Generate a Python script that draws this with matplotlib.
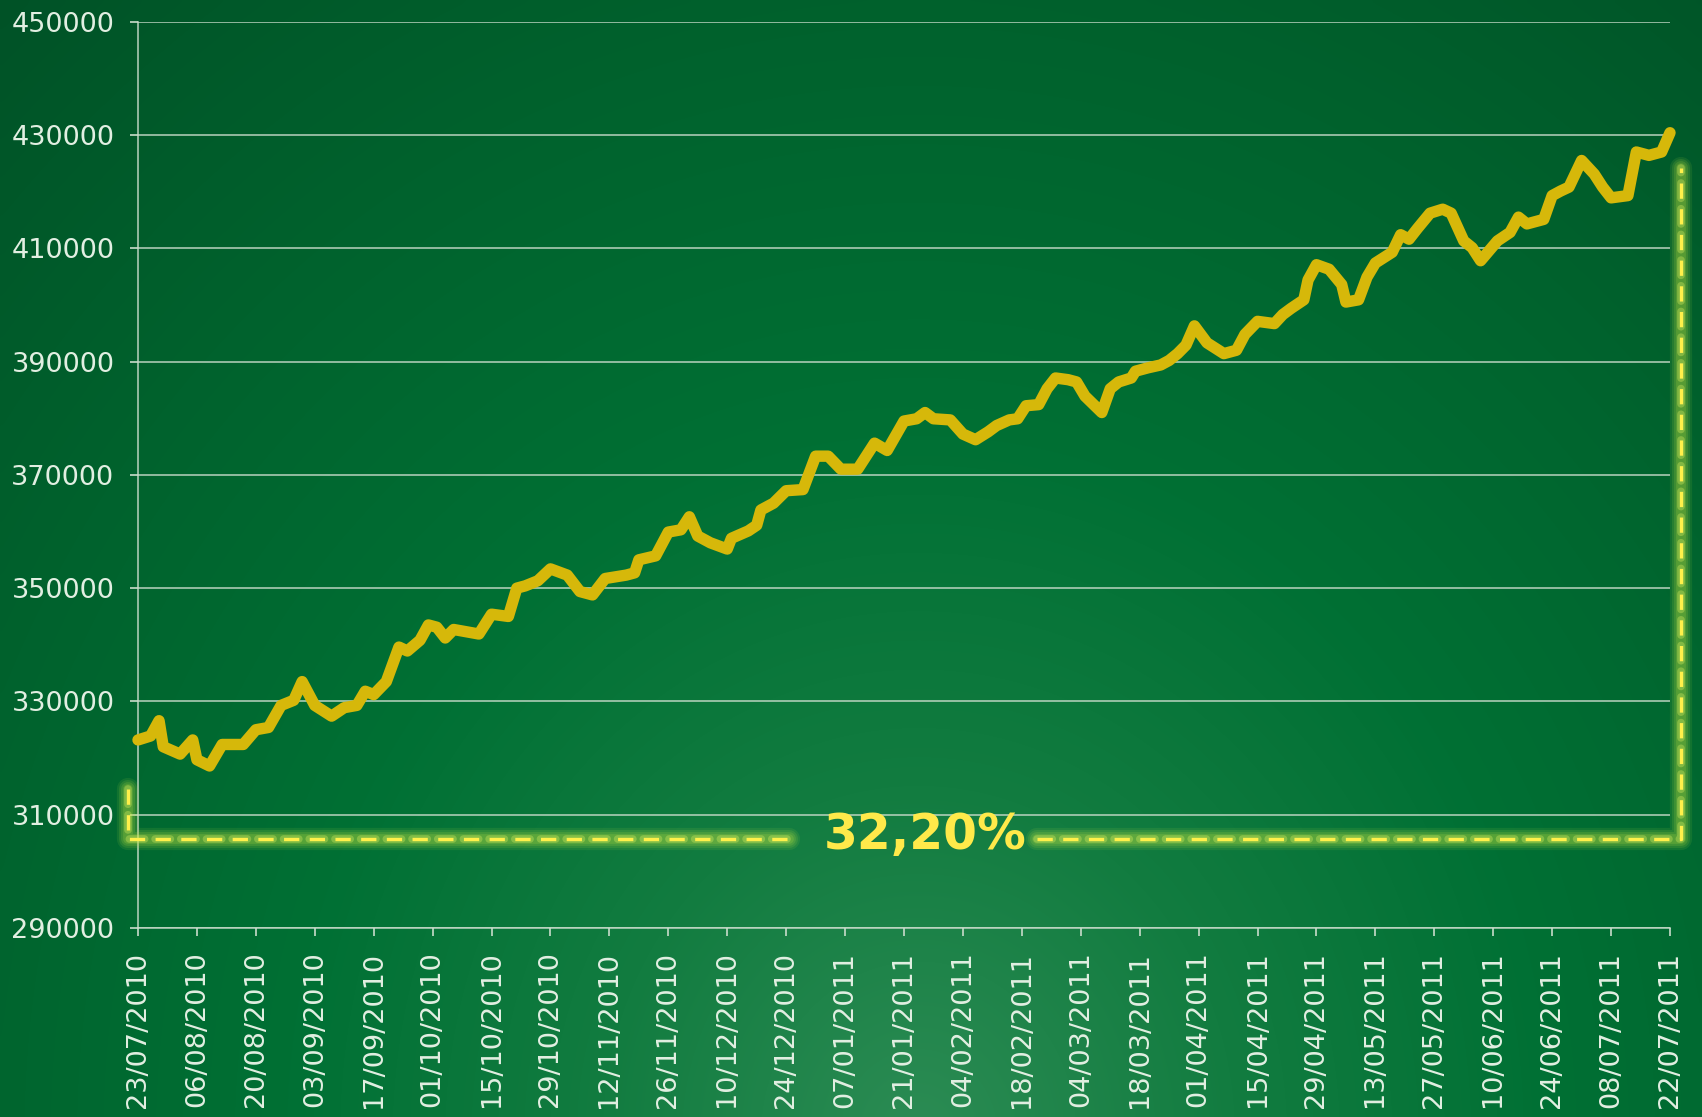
import numpy as np
import pandas as pd
import matplotlib
matplotlib.use("Agg")
import matplotlib.pyplot as plt

# ---------------- data ----------------
dates = [
    "23/07/2010", "26/07/2010", "28/07/2010", "29/07/2010", "02/08/2010", "05/08/2010",
    "06/08/2010", "09/08/2010", "12/08/2010", "17/08/2010", "20/08/2010", "23/08/2010",
    "26/08/2010", "29/08/2010", "31/08/2010", "03/09/2010", "07/09/2010", "10/09/2010",
    "13/09/2010", "15/09/2010", "17/09/2010", "20/09/2010", "23/09/2010", "25/09/2010",
    "28/09/2010", "30/09/2010", "02/10/2010", "04/10/2010", "06/10/2010", "12/10/2010",
    "15/10/2010", "19/10/2010", "21/10/2010", "23/10/2010", "26/10/2010", "29/10/2010",
    "02/11/2010", "05/11/2010", "08/11/2010", "11/11/2010", "16/11/2010", "18/11/2010",
    "19/11/2010", "23/11/2010", "26/11/2010", "29/11/2010", "01/12/2010", "03/12/2010",
    "06/12/2010", "10/12/2010", "11/12/2010", "15/12/2010", "17/12/2010", "18/12/2010",
    "21/12/2010", "24/12/2010", "28/12/2010", "31/12/2010", "03/01/2011", "06/01/2011",
    "10/01/2011", "14/01/2011", "17/01/2011", "21/01/2011", "24/01/2011", "26/01/2011",
    "28/01/2011", "01/02/2011", "04/02/2011", "07/02/2011", "10/02/2011", "12/02/2011",
    "15/02/2011", "17/02/2011", "19/02/2011", "22/02/2011", "24/02/2011", "26/02/2011",
    "01/03/2011", "03/03/2011", "05/03/2011", "09/03/2011", "11/03/2011", "13/03/2011",
    "16/03/2011", "17/03/2011", "20/03/2011", "23/03/2011", "25/03/2011", "27/03/2011",
    "29/03/2011", "31/03/2011", "03/04/2011", "07/04/2011", "10/04/2011", "12/04/2011",
    "15/04/2011", "17/04/2011", "19/04/2011", "21/04/2011", "23/04/2011", "26/04/2011",
    "27/04/2011", "29/04/2011", "02/05/2011", "05/05/2011", "06/05/2011", "09/05/2011",
    "11/05/2011", "13/05/2011", "17/05/2011", "19/05/2011", "21/05/2011", "23/05/2011",
    "26/05/2011", "29/05/2011", "31/05/2011", "03/06/2011", "05/06/2011", "07/06/2011",
    "11/06/2011", "14/06/2011", "16/06/2011", "18/06/2011", "22/06/2011", "24/06/2011",
    "26/06/2011", "28/06/2011", "01/07/2011", "04/07/2011", "06/07/2011", "08/07/2011",
    "12/07/2011", "14/07/2011", "17/07/2011", "20/07/2011", "22/07/2011",
]
values = [
    323200, 323900, 326600, 322000, 320700, 323200,
    319700, 318600, 322400, 322400, 325000, 325400,
    329300, 330200, 333500, 329300, 327400, 328900,
    329300, 331800, 331200, 333500, 339600, 338900,
    340800, 343500, 343100, 341200, 342700, 341900,
    345400, 345000, 350000, 350400, 351300, 353400,
    352300, 349400, 348800, 351700, 352300, 352700,
    355000, 355700, 359900, 360300, 362600, 359200,
    358000, 356900, 358800, 360100, 361100, 363800,
    365000, 367200, 367400, 373300, 373300, 371000,
    371000, 375600, 374300, 379500, 379900, 381000,
    379900, 379700, 377200, 376200, 377600, 378700,
    379700, 379900, 382200, 382400, 385200, 387100,
    386800, 386400, 383900, 381000, 385200, 386400,
    387100, 388300, 388900, 389400, 390200, 391400,
    392900, 396300, 393300, 391400, 392000, 394800,
    397100, 396900, 396700, 398300, 399400, 400900,
    404400, 407100, 406300, 403600, 400500, 400900,
    404900, 407400, 409300, 412400, 411600, 413500,
    416200, 416900, 416200, 411300, 410100, 407800,
    411300, 412800, 415500, 414300, 415100, 419300,
    420100, 420800, 425500, 423100, 420800, 418900,
    419300, 427000, 426400, 427000, 430400,
]
tick_labels = [
    "23/07/2010", "06/08/2010", "20/08/2010", "03/09/2010", "17/09/2010", "01/10/2010",
    "15/10/2010", "29/10/2010", "12/11/2010", "26/11/2010", "10/12/2010", "24/12/2010",
    "07/01/2011", "21/01/2011", "04/02/2011", "18/02/2011", "04/03/2011", "18/03/2011",
    "01/04/2011", "15/04/2011", "29/04/2011", "13/05/2011", "27/05/2011", "10/06/2011",
    "24/06/2011", "08/07/2011", "22/07/2011",
]
y_ticks = [290000, 310000, 330000, 350000, 370000, 390000, 410000, 430000, 450000]
annotation_text = "32,20%"

# ---------------- figure ----------------
plt.rcParams["font.family"] = ["DejaVu Sans"]
plt.rcParams["lines.scale_dashes"] = False

W, H = 1702, 1117
fig = plt.figure(figsize=(W / 100, H / 100), dpi=100)

# background radial gradient
bg = fig.add_axes([0, 0, 1, 1], zorder=-10)
gh, gw = 224, 340
u = np.linspace(0, 1, gw)[None, :]
v = np.linspace(0, 1, gh)[:, None]
d = np.sqrt(((u - 0.54) / 0.62) ** 2 + ((v - 1.02) / 1.05) ** 2)
stops = [0.0, 0.3, 0.6, 0.95, 1.4]
cols = np.array([
    [44, 140, 84],
    [18, 124, 64],
    [0, 112, 52],
    [0, 98, 45],
    [0, 78, 37],
]) / 255.0
img = np.zeros((gh, gw, 3))
for c in range(3):
    img[..., c] = np.interp(d, stops, cols[:, c])
bg.imshow(img, aspect="auto", extent=[0, 1, 0, 1], interpolation="bicubic")
bg.set_axis_off()

ax = fig.add_axes([138 / W, 1 - 928 / H, (1670 - 138) / W, (928 - 21.7) / H])
ax.set_facecolor("none")

x = pd.to_datetime(dates, format="%d/%m/%Y")
ax.plot(x, values, color="#d6b80a", lw=8.2, solid_joinstyle="round",
        solid_capstyle="round", zorder=5, clip_on=False)

ax.set_ylim(290000, 450000)
ax.set_xlim(pd.to_datetime(tick_labels[0], format="%d/%m/%Y"),
            pd.to_datetime(tick_labels[-1], format="%d/%m/%Y"))
ax.set_yticks(y_ticks)
ax.set_yticklabels([str(t) for t in y_ticks])
tick_pos = pd.to_datetime(tick_labels, format="%d/%m/%Y")
ax.set_xticks(tick_pos)
ax.set_xticklabels(tick_labels, rotation=90)

grid_col = "#c9dccb"
ax.grid(axis="y", color=grid_col, lw=1.2, alpha=0.85, zorder=1)
ax.grid(axis="x", visible=False)
for s in ["top", "right"]:
    ax.spines[s].set_visible(False)
for s in ["left", "bottom"]:
    ax.spines[s].set_color(grid_col)
    ax.spines[s].set_linewidth(1.2)
    ax.spines[s].set_alpha(0.85)

label_col = "#e2efe2"
ax.tick_params(axis="both", colors=grid_col, length=6, width=1.2,
               labelcolor=label_col, labelsize=19.5)
ax.tick_params(axis="y", pad=11)
ax.tick_params(axis="x", pad=11)

# ---------------- annotation bracket ----------------
tr = ax.get_yaxis_transform()
y_br = 305700
left_top = 314500
right_top = 424100
xl, xr = -0.0064, 1.0071
seg_left = ([xl, xl, 0.425], [left_top, y_br, y_br])
seg_right = ([0.587, xr, xr], [y_br, y_br, right_top])
for sx, sy in (seg_left, seg_right):
    for lw, a in ((16, 0.10), (13, 0.13), (10, 0.16), (7, 0.2)):
        ax.plot(sx, sy, transform=tr, color="#b8e040", lw=lw, alpha=a,
                solid_capstyle="round", solid_joinstyle="round",
                clip_on=False, zorder=3)
    ax.plot(sx, sy, transform=tr, color="#d8ee60", lw=5.5, alpha=0.35,
            linestyle=(0, (11, 7.5)), dash_capstyle="round", clip_on=False, zorder=3)
    ax.plot(sx, sy, transform=tr, color="#fff04a", lw=2.4,
            linestyle=(0, (11, 7.5)), dash_capstyle="butt", clip_on=False, zorder=4)

ax.text(0.514, y_br + 700, annotation_text, transform=tr, ha="center", va="center",
        color="#ffe94a", fontsize=35, fontweight="bold", zorder=6)

fig.savefig("out.png", dpi=100)
